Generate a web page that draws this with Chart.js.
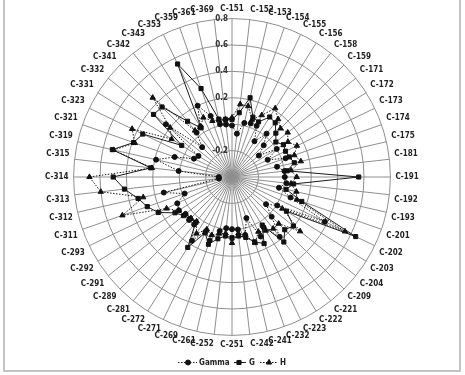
<!DOCTYPE html>
<html>
<head>
<meta charset="utf-8">
<script src="https://cdn.jsdelivr.net/npm/chart.js@4.4.0/dist/chart.umd.min.js"></script>
<style>
html,body{margin:0;padding:0;background:#fff;}
#wrap{position:relative;width:465px;height:375px;overflow:hidden;background:#fff;}
#frame{position:absolute;left:3px;top:-6px;width:458px;height:378px;border:2px solid #c4c4c4;box-sizing:border-box;}
canvas{position:absolute;left:0;top:0;}
</style>
</head>
<body>
<div id="wrap"><div id="frame"></div><canvas id="c" width="465" height="375"></canvas></div>
<script>
const categories = ["C-151","C-152","C-153","C-154","C-155","C-156","C-158","C-159","C-171","C-172","C-173","C-174","C-175","C-181",
  "C-191","C-192","C-193","C-201","C-202","C-203","C-204","C-209","C-221","C-222","C-223","C-232","C-241","C-242",
  "C-251","C-252","C-261","C-269","C-271","C-272","C-281","C-289","C-291","C-292","C-293","C-311","C-312","C-313",
  "C-314","C-315","C-319","C-321","C-323","C-331","C-332","C-341","C-342","C-343","C-353","C-359","C-361","C-369"];

const gammaValues = [-0.01,-0.07,0.02,0.03,0.03,-0.08,0.02,-0.06,-0.14,0.0,-0.10,0.03,-0.05,0.0,
  0.0,0.015,-0.035,0.07,0.38,0.005,-0.07,0.025,0.18,0.05,0.10,-0.07,0.05,0.0,
  -0.005,-0.01,0.02,0.11,0.056,0.17,0.06,0.06,0.05,0.075,0.06,-0.02,0.13,-0.3,
  -0.3,0.007,0.19,0.06,-0.08,-0.10,0.24,-0.08,0.03,0.05,0.20,0.09,0.01,0.0];

const gValues = [0.035,0.09,0.216,0.08,0.063,0.137,0.125,0.07,0.025,0.06,0.05,0.06,0.084,0.02,
  0.56,0.07,0.02,0.16,0.64,0.087,0.195,0.165,0.23,0.03,0.16,0.12,0.07,0.05,
  0.06,0.05,0.08,0.14,0.07,0.23,0.04,0.046,0.07,0.11,0.22,0.28,0.33,0.42,
  0.50,0.22,0.53,0.39,0.35,0.05,0.36,0.35,0.14,0.04,0.55,0.31,0.05,0.04];

const hValues = [0.05,0.155,0.15,0.06,0.12,0.215,0.16,0.12,0.14,0.10,0.146,0.10,0.135,0.05,
  0.09,0.05,0.10,0.12,0.55,0.05,0.26,0.10,0.10,0.08,0.06,0.13,0.05,0.03,
  0.10,0.03,0.04,0.066,0.04,0.106,0.03,0.04,0.05,0.08,0.15,0.48,0.29,0.60,
  0.68,0.21,0.52,0.38,0.44,0.14,0.20,0.45,0.05,0.05,0.10,0.05,0.04,0.04];

const tickValues = [-0.2, 0, 0.2, 0.4, 0.6, 0.8];
const seriesNames = ["Gamma", "G", "H"];

const FONT = '"Liberation Sans Narrow", "DejaVu Sans Condensed", "Liberation Sans", sans-serif';

const tickPlugin = {
  id: 'leftTicks',
  beforeDatasetsDraw(chart) {
    const s = chart.scales.r, ctx = chart.ctx;
    ctx.save();
    ctx.font = 'bold 8px ' + FONT;
    ctx.fillStyle = '#333';
    ctx.textAlign = 'right';
    ctx.textBaseline = 'middle';
    tickValues.forEach(v => {
      const d = s.getDistanceFromCenterForValue(v);
      ctx.fillText(String(v), s.xCenter - 4, s.yCenter - d);
    });
    ctx.restore();
  }
};

const legendPlugin = {
  id: 'lineLegend',
  afterDraw(chart) {
    const ctx = chart.ctx;
    const y = 362;
    const items = [
      {ds: 0, x0: 178, x1: 197, mx: 188, tx: 199},
      {ds: 1, x0: 234, x1: 246, mx: 239, tx: 249},
      {ds: 2, x0: 260, x1: 277, mx: 269, tx: 280}
    ];
    ctx.save();
    items.forEach(it => {
      const d = chart.data.datasets[it.ds];
      ctx.strokeStyle = d.borderColor;
      ctx.lineWidth = 1;
      ctx.setLineDash(d.borderDash || []);
      ctx.beginPath(); ctx.moveTo(it.x0, y + 0.5); ctx.lineTo(it.x1, y + 0.5); ctx.stroke();
      ctx.setLineDash([]);
      ctx.fillStyle = '#111';
      ctx.strokeStyle = '#111';
      Chart.helpers.drawPoint(ctx, {pointStyle: d.pointStyle, radius: d.pointRadius, borderWidth: 1, rotation: 0}, it.mx, y + 0.5);
      ctx.fillStyle = '#222';
      ctx.font = 'bold 8px ' + FONT;
      ctx.textAlign = 'left';
      ctx.textBaseline = 'middle';
      ctx.fillText(d.label, it.tx, y + 1);
    });
    ctx.restore();
  }
};

function mkDs(label, data, style, radius, dash) {
  return {
    label: label,
    data: data,
    fill: false,
    borderColor: '#1a1a1a',
    borderWidth: 1,
    borderDash: dash,
    pointStyle: style,
    pointRadius: radius,
    pointBackgroundColor: '#111',
    pointBorderColor: '#111',
    pointBorderWidth: 1,
    tension: 0
  };
}

new Chart(document.getElementById('c'), {
  type: 'radar',
  data: {
    labels: categories,
    datasets: [
      mkDs(seriesNames[0], gammaValues, 'circle', 2.5, [1.5, 1.5]),
      mkDs(seriesNames[1], gValues, 'rect', 2.9, []),
      mkDs(seriesNames[2], hValues, 'triangle', 3.1, [1.5, 1.5])
    ]
  },
  options: {
    responsive: false,
    animation: false,
    devicePixelRatio: 1,
    layout: { padding: { top: 4, bottom: 24, left: 0, right: 1 } },
    plugins: { legend: { display: false }, tooltip: { enabled: false }, title: { display: false } },
    elements: { line: { borderJoinStyle: 'miter' } },
    scales: {
      r: {
        min: -0.4,
        max: 0.8,
        ticks: { display: false, stepSize: 0.2 },
        grid: { circular: true, color: '#8e8e8e', lineWidth: 1 },
        angleLines: { display: true, color: '#8e8e8e', lineWidth: 1 },
        pointLabels: { font: { size: 8, family: FONT, weight: 'bold' }, color: '#222', padding: 5 }
      }
    }
  },
  plugins: [tickPlugin, legendPlugin]
});
</script>
</body>
</html>
